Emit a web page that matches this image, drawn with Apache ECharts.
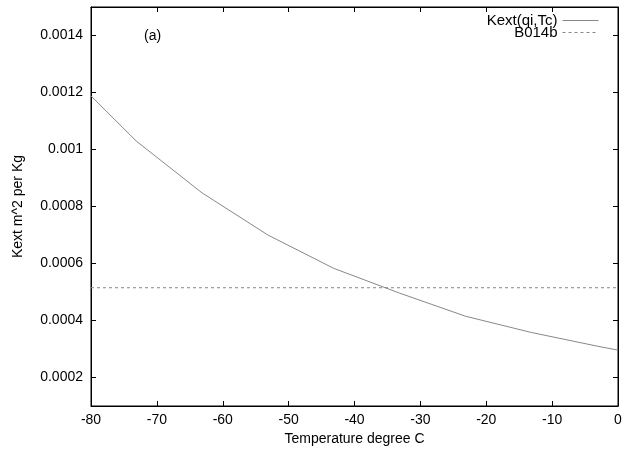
<!DOCTYPE html>
<html>
<head>
<meta charset="utf-8">
<script src="https://cdn.jsdelivr.net/npm/echarts@6/dist/echarts.min.js"></script>
<style>
html,body{margin:0;padding:0;background:#fff;}
#chart{width:625px;height:451px;}
</style>
</head>
<body>
<div id="chart"></div>
<script>
// Data
var temperatures = [-80, -73.15, -63.15, -53.15, -43.15, -33.15, -23.15, -13.15, -3.15, 0];
var kextValues = [0.001188, 0.001030, 0.000848, 0.000700, 0.000583, 0.000496, 0.000415, 0.000358, 0.000310, 0.000296];
var b014bTemps = [-80, 0];
var b014bValues = [0.000515, 0.000515];
var yTicks = [0.0002, 0.0004, 0.0006, 0.0008, 0.001, 0.0012, 0.0014];
var seriesNames = ['Kext(qi,Tc)', 'B014b'];

var FONT = "'Liberation Sans', Arial, Helvetica, sans-serif";
var chart = echarts.init(document.getElementById('chart'), null, {renderer: 'canvas'});

function pairs(xs, ys) { return xs.map(function (x, i) { return [x, ys[i]]; }); }
function fmt(v) { return String(+Number(v).toFixed(4)); }

var axisLine = {show: true, onZero: false, lineStyle: {color: '#000', width: 1}};
var tick = {show: true, inside: true, length: 5, lineStyle: {color: '#000', width: 1}};
var ytick = {show: true, inside: true, length: 5, lineStyle: {color: '#000', width: 1}, customValues: yTicks};

var option = {
  backgroundColor: '#fff',
  animation: false,
  grid: {left: 91, right: 7, top: 7, bottom: 45, show: true, borderColor: '#000', borderWidth: 1},
  legend: {
    orient: 'vertical', right: 21, top: 8, align: 'right',
    itemWidth: 36, itemHeight: 8, itemGap: -3,
    itemStyle: {opacity: 0},
    lineStyle: {width: 1},
    textStyle: {fontFamily: FONT, fontSize: 15, color: '#000'},
    data: seriesNames
  },
  xAxis: [{
    type: 'value', position: 'bottom', min: -80, max: 0, interval: 10,
    axisLine: axisLine, splitLine: {show: false}, axisTick: tick,
    axisLabel: {color: '#000', fontFamily: FONT, fontSize: 14, margin: 7},
    name: 'Temperature degree C', nameLocation: 'middle', nameGap: 24,
    nameTextStyle: {color: '#000', fontFamily: FONT, fontSize: 14}
  }, {
    type: 'value', position: 'top', min: -80, max: 0, interval: 10,
    axisLine: axisLine, splitLine: {show: false}, axisTick: tick,
    axisLabel: {show: false}
  }],
  yAxis: [{
    type: 'value', position: 'left', min: 0.0001, max: 0.0015,
    axisLine: axisLine, splitLine: {show: false}, axisTick: ytick,
    axisLabel: {color: '#000', fontFamily: FONT, fontSize: 14, margin: 8, customValues: yTicks, formatter: fmt},
    name: 'Kext m^2 per Kg', nameLocation: 'middle', nameGap: 66, nameRotate: 90,
    nameTextStyle: {color: '#000', fontFamily: FONT, fontSize: 14}
  }, {
    type: 'value', position: 'right', min: 0.0001, max: 0.0015,
    axisLine: axisLine, splitLine: {show: false}, axisTick: ytick,
    axisLabel: {show: false}
  }],
  graphic: [{
    type: 'text', left: 144, top: 29,
    style: {text: '(a)', font: '14px ' + FONT, fill: '#000'}
  }],
  series: [{
    name: seriesNames[0], type: 'line', xAxisIndex: 0, yAxisIndex: 0,
    data: pairs(temperatures, kextValues), symbol: 'none', showSymbol: false,
    lineStyle: {color: '#888', width: 1, type: 'solid'}, itemStyle: {color: '#888'}
  }, {
    name: seriesNames[1], type: 'line', xAxisIndex: 0, yAxisIndex: 0,
    data: pairs(b014bTemps, b014bValues), symbol: 'none', showSymbol: false,
    lineStyle: {color: '#888', width: 1, type: [3, 3]}, itemStyle: {color: '#888'}
  }]
};
chart.setOption(option);
</script>
</body>
</html>
